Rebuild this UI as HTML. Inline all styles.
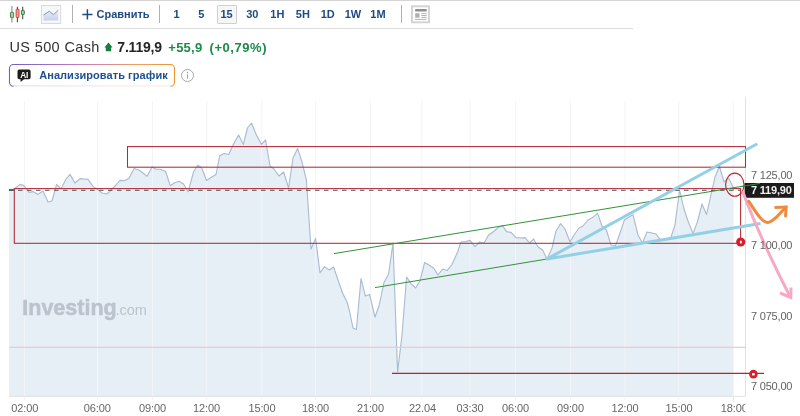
<!DOCTYPE html>
<html lang="ru"><head><meta charset="utf-8"><title>US 500 Cash</title>
<style>
html,body{margin:0;padding:0;background:#fff;}
body{width:800px;height:416px;overflow:hidden;position:relative;font-family:"Liberation Sans",Arial,sans-serif;}
.abs{position:absolute;white-space:nowrap;}
.tb{position:absolute;left:0;top:0;width:633px;height:28px;border-bottom:1px solid #dcdcdc;box-sizing:content-box;}
.tt{position:absolute;left:0;top:0;width:800px;height:1px;background:#d4d4d4;}
.div{position:absolute;top:5px;width:1px;height:18px;background:#aeb1b7;}
.tf{position:absolute;top:8px;font-size:11px;font-weight:bold;color:#1f4a80;line-height:13px;transform:translateX(-50%);}
.sel{position:absolute;left:217px;top:5px;width:18px;height:17px;border:1px solid #d0d0d0;background:#f6f6f7;border-radius:1px;}
svg text{font-family:"Liberation Sans",Arial,sans-serif;}
</style></head><body><div id="wrap" style="position:absolute;left:0;top:0;width:800px;height:416px;will-change:transform;">
<div class="tb"></div><div class="tt"></div>
<svg class="abs" style="left:0;top:0" width="800" height="30" viewBox="0 0 800 30">
  <!-- candles -->
  <line x1="11.9" y1="5.9" x2="11.9" y2="22.5" stroke="#9fb09f" stroke-width="1.5"/>
  <rect x="10.5" y="12.3" width="3.1" height="5.4" rx="0.6" fill="#a6d698" stroke="#3f7f3f" stroke-width="0.9"/>
  <line x1="17.4" y1="6.8" x2="17.4" y2="22.2" stroke="#7a3434" stroke-width="1.1"/>
  <rect x="16.1" y="9.2" width="2.9" height="8.3" rx="0.6" fill="#f79a96" stroke="#c8403c" stroke-width="0.9"/>
  <line x1="22.7" y1="6.8" x2="22.7" y2="19.2" stroke="#4a4f4a" stroke-width="1.1"/>
  <rect x="21.4" y="10.4" width="2.9" height="4.1" rx="0.6" fill="#a6d698" stroke="#2f6f2f" stroke-width="0.9"/>
  <!-- area icon -->
  <defs><linearGradient id="ag" x1="0" y1="0" x2="0" y2="1"><stop offset="0" stop-color="#e9eef8"/><stop offset="1" stop-color="#c6d2ec"/></linearGradient></defs>
  <rect x="41.5" y="5.5" width="19.2" height="18" fill="#f6f7fa" stroke="#d7d9dd" stroke-width="1"/>
  <path d="M43.5,15 L49.25,11.3 L53.5,14.65 L58.2,10.3 L58.2,20.5 L43.5,20.5 Z" fill="url(#ag)"/>
  <path d="M43.5,15 L49.25,11.3 L53.5,14.65 L58.2,10.3" fill="none" stroke="#8d94a2" stroke-width="1"/>
  <!-- plus -->
  <path d="M82.3,14.4 H92.5 M87.4,9.3 V19.5" stroke="#1f4a80" stroke-width="1.5" fill="none"/>
  <!-- layout icon -->
  <rect x="412" y="6.3" width="17" height="16" fill="#fff" stroke="#d4d4d4" stroke-width="2"/>
  <rect x="415.2" y="9" width="11.5" height="2.5" fill="#8e8e8e"/>
  <rect x="415.2" y="13.2" width="4.3" height="4.5" fill="#b0b0b0"/>
  <path d="M421.3,13.6 H426.7 M421.3,15.5 H426.7 M421.3,17.4 H426.7 M415.2,19.4 H426.7" stroke="#a0a0a0" stroke-width="0.8"/>
</svg>
<div class="div" style="left:72px"></div>
<div class="div" style="left:159px"></div>
<div class="div" style="left:401px"></div>
<div class="abs" style="left:96.5px;top:8px;font-size:11px;font-weight:bold;color:#1f4a80;line-height:13px;">Сравнить</div>
<div class="sel"></div>
<div class="tf" style="left:176.5px">1</div>
<div class="tf" style="left:201.4px">5</div>
<div class="tf" style="left:226.5px">15</div>
<div class="tf" style="left:252.3px">30</div>
<div class="tf" style="left:277.4px">1H</div>
<div class="tf" style="left:302.8px">5H</div>
<div class="tf" style="left:327.7px">1D</div>
<div class="tf" style="left:353px">1W</div>
<div class="tf" style="left:378px">1M</div>

<div class="abs" style="left:9.5px;top:38.7px;font-size:14.5px;color:#333;line-height:17px;letter-spacing:0.36px">US 500 Cash</div>
<svg class="abs" style="left:100px;top:40px" width="16" height="14" viewBox="100 40 16 14"><path d="M108.5,42.6 L112.6,47.5 H111.1 V51.3 H105.8 V47.5 H104.4 Z" fill="#14803f"/></svg>
<div class="abs" style="left:117.3px;top:38.7px;font-size:14px;font-weight:bold;color:#232526;line-height:17px;letter-spacing:-0.2px">7.119,9</div>
<div class="abs" style="left:168.3px;top:39.6px;font-size:13px;font-weight:bold;color:#1b8a4b;line-height:16px;letter-spacing:0.25px">+55,9</div>
<div class="abs" style="left:209.5px;top:39.6px;font-size:13px;font-weight:bold;color:#1b8a4b;line-height:16px;letter-spacing:0.55px">(+0,79%)</div>

<svg class="abs" style="left:0;top:58px" width="200" height="34" viewBox="0 58 200 34">
  <defs><linearGradient id="bg" gradientUnits="userSpaceOnUse" x1="9" y1="0" x2="175" y2="0"><stop offset="0" stop-color="#6a5fd0"/><stop offset="0.45" stop-color="#c77fb4"/><stop offset="0.8" stop-color="#eda25a"/><stop offset="1" stop-color="#e9962f"/></linearGradient>
  <linearGradient id="bv" gradientUnits="userSpaceOnUse" x1="0" y1="64" x2="0" y2="86.5"><stop offset="0" stop-color="#fff" stop-opacity="0"/><stop offset="0.8" stop-color="#fff" stop-opacity="0"/><stop offset="1" stop-color="#fff" stop-opacity="0.85"/></linearGradient></defs>
  <rect x="9.5" y="64.5" width="165" height="21.8" rx="4" fill="#fff" stroke="url(#bg)" stroke-width="1.1"/>
  <line x1="13.5" y1="86.3" x2="170.5" y2="86.3" stroke="#fff" stroke-opacity="0.88" stroke-width="1.8"/>
  <path d="M19.3,69.4 H28.8 Q30.6,69.4 30.6,71.2 V77.5 Q30.6,79.3 28.8,79.3 H24 L20.6,82 V79.3 H19.3 Q17.5,79.3 17.5,77.5 V71.2 Q17.5,69.4 19.3,69.4 Z" fill="#1c1c1c"/>
  <text x="24.2" y="77.8" font-size="8.3" font-weight="bold" fill="#fff" text-anchor="middle" letter-spacing="-0.2">AI</text>
</svg>
<div class="abs" style="left:39.2px;top:69px;font-size:11px;font-weight:bold;color:#1f4f8f;line-height:13px;letter-spacing:0.06px">Анализировать график</div>
<svg class="abs" style="left:180px;top:68px" width="15" height="15" viewBox="0 0 15 15"><circle cx="7.5" cy="7.5" r="6" fill="#fff" stroke="#a6a6a6" stroke-width="1"/><circle cx="7.5" cy="4.5" r="0.65" fill="#999"/><rect x="7.05" y="6.2" width="0.9" height="4.5" fill="#999"/></svg>

<svg class="abs" style="left:0;top:0" width="800" height="416" viewBox="0 0 800 416">
  <path d="M9,396.3 L9,189.6 L14,189 L15.5,188 L20,184.4 L24,185.6 L29,192.4 L33,191.6 L38,194.4 L43,191 L48,202 L52,201 L56.6,184.4 L61,189 L66,179 L70,174.4 L75,183 L80,178.6 L84,179 L88,179.4 L93,186.4 L97,189 L102,193 L107,194 L112,189 L116,185 L120,180.4 L124.5,180.8 L129,178.2 L134.2,168.5 L138.7,170 L143,173 L147,176.4 L152,167 L156,169.2 L160.5,169.2 L165.7,171.5 L170.2,185.7 L174.7,182.7 L179.2,181.2 L183.7,184.2 L188.2,191.7 L193.5,172 L197.7,165.2 L201.7,167.7 L206.5,180.5 L211,177.5 L216,174.5 L219.7,155.7 L224.2,153.5 L228.7,154.5 L233.4,144.2 L238.6,135 L243.4,144.4 L247.4,128 L251.6,123.2 L256,134 L261.4,144.4 L265.6,140 L270,166 L274,169 L279,176 L283.6,172 L288.6,188 L293,158 L297.6,148.4 L302,162 L306.4,180 L311,249 L315.6,238.4 L320,273 L324.4,266.6 L329.4,270 L333.6,267 L338,280 L342.6,293 L347,302 L349.5,311 L353,328 L356.4,329.4 L361,278.6 L365.4,296 L369.6,294.4 L375,317 L379,306 L384,282.4 L388.6,274 L393,243 L397.6,372 L402,335 L406.6,277 L411,283.6 L415.6,288 L420,281 L424.6,262.6 L429,265 L433.6,268 L438,275 L442.6,269 L447,270.6 L451.6,265 L454,260 L457.6,252 L461,242 L466,241.6 L470,240.4 L475,246.6 L479.6,242 L484,243 L488.6,235 L493,232 L497.6,228 L502.4,225.6 L506.6,231.6 L511,232.4 L516,237.6 L520.4,238 L525,237.6 L529.6,243 L533.6,239 L538,247 L542.6,250 L547,259 L552,248 L556,231 L560.6,223.6 L565,229 L570,242 L574,235 L579,228 L583,226 L588,220 L592.4,217.6 L597.6,213.4 L602,226 L606.4,230 L611,245 L615.6,245.4 L620,233 L624.4,220 L629,217 L633,214.6 L638,235 L642.4,243 L647,232 L652,233 L656,234 L660,239.4 L666,240 L671,237 L675,225 L679.6,190 L684,209 L688,221 L693,233.4 L697.4,222 L702,204 L706.5,214.5 L711,194.5 L715,177 L719.5,166.5 L724,182 L728.6,178 L733,187 L733.4,190 L733.4,396.3 Z" fill="#e6eef6"/>
  <line x1="24.5" y1="101" x2="24.5" y2="400" stroke="#f2f4f7" stroke-width="1"/><line x1="97.5" y1="101" x2="97.5" y2="400" stroke="#f2f4f7" stroke-width="1"/><line x1="152.5" y1="101" x2="152.5" y2="400" stroke="#f2f4f7" stroke-width="1"/><line x1="206.75" y1="101" x2="206.75" y2="400" stroke="#f2f4f7" stroke-width="1"/><line x1="261.75" y1="101" x2="261.75" y2="400" stroke="#f2f4f7" stroke-width="1"/><line x1="315.5" y1="101" x2="315.5" y2="400" stroke="#f2f4f7" stroke-width="1"/><line x1="370.5" y1="101" x2="370.5" y2="400" stroke="#f2f4f7" stroke-width="1"/><line x1="421.75" y1="101" x2="421.75" y2="400" stroke="#f2f4f7" stroke-width="1"/><line x1="470" y1="101" x2="470" y2="400" stroke="#f2f4f7" stroke-width="1"/><line x1="515.5" y1="101" x2="515.5" y2="400" stroke="#f2f4f7" stroke-width="1"/><line x1="570.5" y1="101" x2="570.5" y2="400" stroke="#f2f4f7" stroke-width="1"/><line x1="625" y1="101" x2="625" y2="400" stroke="#f2f4f7" stroke-width="1"/><line x1="678.75" y1="101" x2="678.75" y2="400" stroke="#f2f4f7" stroke-width="1"/><line x1="733.25" y1="101" x2="733.25" y2="400" stroke="#f2f4f7" stroke-width="1"/>
  <line x1="9" y1="396.4" x2="745.5" y2="396.4" stroke="#dfe3e8" stroke-width="1"/>
  <line x1="745.5" y1="97" x2="745.5" y2="396" stroke="#dfe1e5" stroke-width="1"/>
  <line x1="733.4" y1="396" x2="733.4" y2="402" stroke="#e3e6ea" stroke-width="1"/>
  <line x1="310" y1="185" x2="600" y2="185" stroke="#eeeeee" stroke-width="1" stroke-dasharray="1 2"/>
  <polyline points="9,189.6 14,189 15.5,188 20,184.4 24,185.6 29,192.4 33,191.6 38,194.4 43,191 48,202 52,201 56.6,184.4 61,189 66,179 70,174.4 75,183 80,178.6 84,179 88,179.4 93,186.4 97,189 102,193 107,194 112,189 116,185 120,180.4 124.5,180.8 129,178.2 134.2,168.5 138.7,170 143,173 147,176.4 152,167 156,169.2 160.5,169.2 165.7,171.5 170.2,185.7 174.7,182.7 179.2,181.2 183.7,184.2 188.2,191.7 193.5,172 197.7,165.2 201.7,167.7 206.5,180.5 211,177.5 216,174.5 219.7,155.7 224.2,153.5 228.7,154.5 233.4,144.2 238.6,135 243.4,144.4 247.4,128 251.6,123.2 256,134 261.4,144.4 265.6,140 270,166 274,169 279,176 283.6,172 288.6,188 293,158 297.6,148.4 302,162 306.4,180 311,249 315.6,238.4 320,273 324.4,266.6 329.4,270 333.6,267 338,280 342.6,293 347,302 349.5,311 353,328 356.4,329.4 361,278.6 365.4,296 369.6,294.4 375,317 379,306 384,282.4 388.6,274 393,243 397.6,372 402,335 406.6,277 411,283.6 415.6,288 420,281 424.6,262.6 429,265 433.6,268 438,275 442.6,269 447,270.6 451.6,265 454,260 457.6,252 461,242 466,241.6 470,240.4 475,246.6 479.6,242 484,243 488.6,235 493,232 497.6,228 502.4,225.6 506.6,231.6 511,232.4 516,237.6 520.4,238 525,237.6 529.6,243 533.6,239 538,247 542.6,250 547,259 552,248 556,231 560.6,223.6 565,229 570,242 574,235 579,228 583,226 588,220 592.4,217.6 597.6,213.4 602,226 606.4,230 611,245 615.6,245.4 620,233 624.4,220 629,217 633,214.6 638,235 642.4,243 647,232 652,233 656,234 660,239.4 666,240 671,237 675,225 679.6,190 684,209 688,221 693,233.4 697.4,222 702,204 706.5,214.5 711,194.5 715,177 719.5,166.5 724,182 728.6,178 733,187 733.4,190" fill="none" stroke="#a8bbd0" stroke-width="1.1" stroke-linejoin="round"/>
  <!-- watermark -->
  <text x="22.3" y="315" font-size="21.5" font-weight="bold" fill="#bcc3cd" stroke="#bcc3cd" stroke-width="0.5" letter-spacing="0">Investing</text>
  <text x="115.5" y="315" font-size="14.5" fill="#bcc3cd">.com</text>
  <!-- pale red line -->
  <line x1="9.5" y1="347.4" x2="746" y2="347.4" stroke="#f1c8cb" stroke-width="1.4"/>
  <!-- current price dashed -->
  <line x1="9" y1="190.3" x2="741" y2="190.3" stroke="#4a4a4a" stroke-width="1.1" stroke-dasharray="4.5 4.5"/>
  <line x1="9" y1="190" x2="14" y2="190" stroke="#3a5a80" stroke-width="1.6"/>
  <!-- rectangles -->
  <rect x="127.5" y="146.6" width="618" height="20.6" fill="none" stroke="#b32a35" stroke-width="1.05"/>
  <rect x="14.3" y="188.6" width="726.3" height="54.7" fill="none" stroke="#b32a35" stroke-width="1.05"/>
  <!-- bottom red line -->
  <line x1="392" y1="373.4" x2="764" y2="373.4" stroke="#c0202a" stroke-width="1.25"/>
  <!-- green lines -->
  <line x1="334" y1="253.6" x2="760" y2="183.4" stroke="#33913a" stroke-width="1"/>
  <line x1="375" y1="287.6" x2="547" y2="259" stroke="#33913a" stroke-width="1"/>
  <!-- blue lines -->
  <path d="M757.3,143.8 L547,259 L760.5,223.4" fill="none" stroke="#93d0e6" stroke-width="3" stroke-linejoin="round"/>
  
  <!-- ellipse -->
  <ellipse cx="734.8" cy="184.7" rx="9.2" ry="11.6" fill="none" stroke="#b3262e" stroke-width="1.1"/>
  <!-- red markers -->
  <circle cx="740.7" cy="242" r="4.6" fill="#d81e2a"/><ellipse cx="740.9" cy="242" rx="1.1" ry="1.5" fill="#fff"/>
  <circle cx="753.4" cy="374.1" r="4.3" fill="#d81e2a"/><rect x="752" y="373" width="2.8" height="2.4" rx="0.6" fill="#fff"/>
  <!-- price label -->
  <rect x="744.6" y="183" width="49.4" height="14.8" fill="#1b1b1b"/>
  <line x1="740" y1="186.7" x2="760" y2="183.4" stroke="#33913a" stroke-width="1"/>
  <text x="751" y="194.4" font-size="11" fill="#f2f2f2" font-weight="bold" letter-spacing="-0.2">7 119,90</text>
  <!-- pink arrow -->
  <path d="M742.5,191 Q759.5,237 790.5,297.5" fill="none" stroke="#f5a9c4" stroke-width="3"/>
  <path d="M780,293 L790.8,297.5 L791,287.5" fill="none" stroke="#f5a9c4" stroke-width="3" stroke-linejoin="miter"/>
  <!-- orange arrow -->
  <path d="M748.8,201.3 C756,212 762,223 768,222.5 C774,222 780,213 786,207" fill="none" stroke="#f08a3c" stroke-width="3" stroke-linecap="round"/>
  <path d="M775.6,207.5 L786,207 L785.6,216" fill="none" stroke="#f08a3c" stroke-width="3" stroke-linecap="round" stroke-linejoin="miter"/>
  <!-- y labels -->
  <g font-size="11" fill="#626262" letter-spacing="-0.2">
    <text x="751" y="179">7 125,00</text>
    <text x="751" y="249.2">7 100,00</text>
    <text x="751" y="319.5">7 075,00</text>
    <text x="751" y="389.7">7 050,00</text>
  </g>
  <g font-size="11" fill="#666" letter-spacing="-0.1"><text x="24.75" y="412" text-anchor="middle">02:00</text><text x="97.25" y="412" text-anchor="middle">06:00</text><text x="152.5" y="412" text-anchor="middle">09:00</text><text x="206.5" y="412" text-anchor="middle">12:00</text><text x="261.9" y="412" text-anchor="middle">15:00</text><text x="315.6" y="412" text-anchor="middle">18:00</text><text x="370.4" y="412" text-anchor="middle">21:00</text><text x="422.6" y="412" text-anchor="middle">22.04</text><text x="470" y="412" text-anchor="middle">03:30</text><text x="515.6" y="412" text-anchor="middle">06:00</text><text x="570.4" y="412" text-anchor="middle">09:00</text><text x="625" y="412" text-anchor="middle">12:00</text><text x="679" y="412" text-anchor="middle">15:00</text><text x="734.25" y="412" text-anchor="middle">18:00</text></g>
  <rect x="745.3" y="400" width="55" height="16" fill="#fff"/>
</svg>
</div></body></html>
